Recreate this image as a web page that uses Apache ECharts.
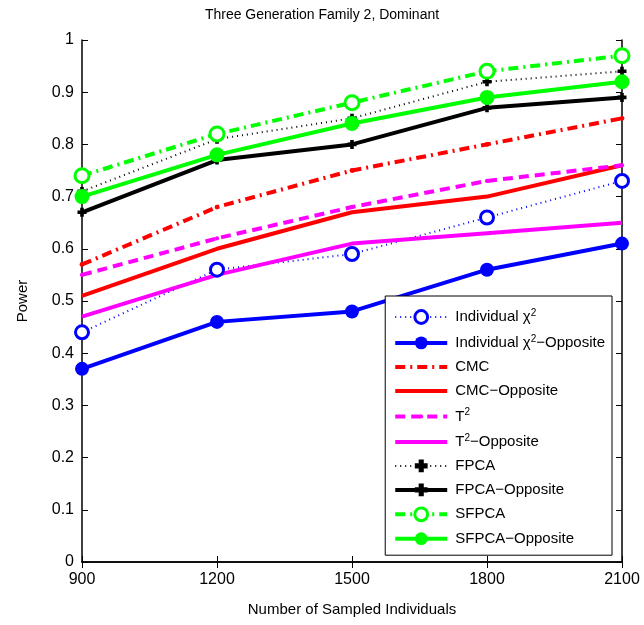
<!DOCTYPE html>
<html><head><meta charset="utf-8">
<script src="https://cdn.jsdelivr.net/npm/echarts@6/dist/echarts.min.js"></script>
<style>html,body{margin:0;padding:0;background:#fff}#c{width:644px;height:625px}</style>
</head><body><div id="c"></div>
<script>
const sampleSizes = [900, 1200, 1500, 1800, 2100];
const indChi2 = [0.44, 0.56, 0.59, 0.66, 0.73];
const indChi2Opp = [0.37, 0.46, 0.48, 0.56, 0.61];
const cmc = [0.57, 0.68, 0.75, 0.80, 0.85];
const cmcOpp = [0.51, 0.60, 0.67, 0.70, 0.76];
const t2 = [0.55, 0.62, 0.68, 0.73, 0.76];
const t2Opp = [0.47, 0.55, 0.61, 0.63, 0.65];
const fpca = [0.71, 0.81, 0.85, 0.92, 0.94];
const fpcaOpp = [0.67, 0.77, 0.80, 0.87, 0.89];
const sfpca = [0.74, 0.82, 0.88, 0.94, 0.97];
const sfpcaOpp = [0.70, 0.78, 0.84, 0.89, 0.92];
const seriesNames = ['Individual χ2','Individual χ2−Opposite','CMC','CMC−Opposite','T2','T2−Opposite','FPCA','FPCA−Opposite','SFPCA','SFPCA−Opposite'];
const legendLabels = {
  'Individual χ2':'Individual χ{sup|2}',
  'Individual χ2−Opposite':'Individual χ{sup|2}−Opposite',
  'CMC':'CMC','CMC−Opposite':'CMC−Opposite',
  'T2':'T{sup|2}','T2−Opposite':'T{sup|2}−Opposite',
  'FPCA':'FPCA','FPCA−Opposite':'FPCA−Opposite',
  'SFPCA':'SFPCA','SFPCA−Opposite':'SFPCA−Opposite'
};
const noMarker = ['CMC−Opposite','T2−Opposite'];
const plus = 'path://M3,0 L7,0 L7,3 L10,3 L10,7 L7,7 L7,10 L3,10 L3,7 L0,7 L0,3 L3,3 Z';
const dot = 'path://M0,0 M10,10 M3.5,5 A1.5,1.5 0 1,1 6.5,5 A1.5,1.5 0 1,1 3.5,5 Z';
function pts(v){ return sampleSizes.map((x,i)=>[x,v[i]]); }
const BLUE='#0000ff', RED='#ff0000', MAG='#ff00ff', BLK='#000000', GRN='#00ff00';
function s(name, vals, color, width, type, symbol, size, filled){
  return {
    name, type:'line', data:pts(vals), z: 3,
    lineStyle:{color, width, type},
    symbol, symbolSize:size, showSymbol:symbol!=='none',
    itemStyle:{color: filled?color:'#fff', borderColor:color, borderWidth: filled?0:3, opacity:1},
    color, emphasis:{disabled:true}, animation:false
  };
}
const series = [
  s(seriesNames[0], indChi2, BLUE, 2, [1,4], 'circle', 13, false),
  s(seriesNames[1], indChi2Opp, BLUE, 4, 'solid', 'circle', 14, true),
  s(seriesNames[2], cmc, RED, 4, [10,5,2,5], dot, 16, true),
  s(seriesNames[3], cmcOpp, RED, 4, 'solid', 'none', 1, true),
  s(seriesNames[4], t2, MAG, 4, [10,6], dot, 14, true),
  s(seriesNames[5], t2Opp, MAG, 4, 'solid', 'none', 1, true),
  s(seriesNames[6], fpca, BLK, 2, [1,4], plus, 9, true),
  s(seriesNames[7], fpcaOpp, BLK, 4, 'solid', plus, 9, true),
  s(seriesNames[8], sfpca, GRN, 4, [10,5,2,5], 'circle', 14, false),
  s(seriesNames[9], sfpcaOpp, GRN, 4, 'solid', 'circle', 15, true)
];
const chart = echarts.init(document.getElementById('c'), null, {renderer:'canvas'});
const font = 'Liberation Sans, Arial, sans-serif';
chart.setOption({
  animation:false,
  backgroundColor:'#fff',
  textStyle:{fontFamily:font},
  title:{text:'Three Generation Family 2, Dominant', left:'center', top:3,
    textStyle:{fontFamily:font, fontSize:14, fontWeight:'normal', color:'#000'}},
  grid:{left:82, right:22, top:40, bottom:63},
  legend:{
    orient:'vertical', right:32, top:296, padding:[12,7,9,8],
    backgroundColor:'#fff', borderColor:'#000', borderWidth:1,
    itemWidth:52, itemHeight:16, itemGap:9,
    data:seriesNames.map(n=>noMarker.includes(n)?{name:n, itemStyle:{opacity:0}}:{name:n}),
    lineStyle:{width:'inherit'},
    itemStyle:{borderWidth:'inherit'},
    formatter:n=>legendLabels[n],
    textStyle:{fontFamily:font, fontSize:15, color:'#000', padding:[0,0,0,3], rich:{sup:{fontSize:10, verticalAlign:'top', padding:[0,0,8,0], fontFamily:font}}}
  },
  xAxis:[{
    type:'value', min:900, max:2100, interval:300,
    name:'Number of Sampled Individuals', nameLocation:'middle', nameGap:40,
    nameTextStyle:{fontFamily:font, fontSize:15, color:'#000'},
    axisLine:{show:true, lineStyle:{color:'#000', width:1.5}},
    axisTick:{inside:true, length:6, lineStyle:{color:'#000'}},
    axisLabel:{fontFamily:font, fontSize:16, color:'#000', margin:10, formatter:v=>String(v)},
    splitLine:{show:false}
  },{
    type:'value', position:'top', min:900, max:2100, interval:300,
    axisLine:{show:true, lineStyle:{color:'#000', width:1.5}},
    axisTick:{inside:true, length:6, lineStyle:{color:'#000'}},
    axisLabel:{show:false}, splitLine:{show:false}
  }],
  yAxis:[{
    type:'value', min:0, max:1, interval:0.1,
    name:'Power', nameLocation:'middle', nameGap:52,
    nameTextStyle:{fontFamily:font, fontSize:15, color:'#000'},
    axisLine:{show:true, lineStyle:{color:'#000', width:1.5}},
    axisTick:{inside:true, length:6, lineStyle:{color:'#000'}},
    axisLabel:{fontFamily:font, fontSize:16, color:'#000', margin:8, formatter:v=>(v===0||v===1)?String(v):v.toFixed(1)},
    splitLine:{show:false}
  },{
    type:'value', position:'right', min:0, max:1, interval:0.1,
    axisLine:{show:true, lineStyle:{color:'#000', width:1.5}},
    axisTick:{inside:true, length:6, lineStyle:{color:'#000'}},
    axisLabel:{show:false}, splitLine:{show:false}
  }],
  series
});
</script></body></html>
